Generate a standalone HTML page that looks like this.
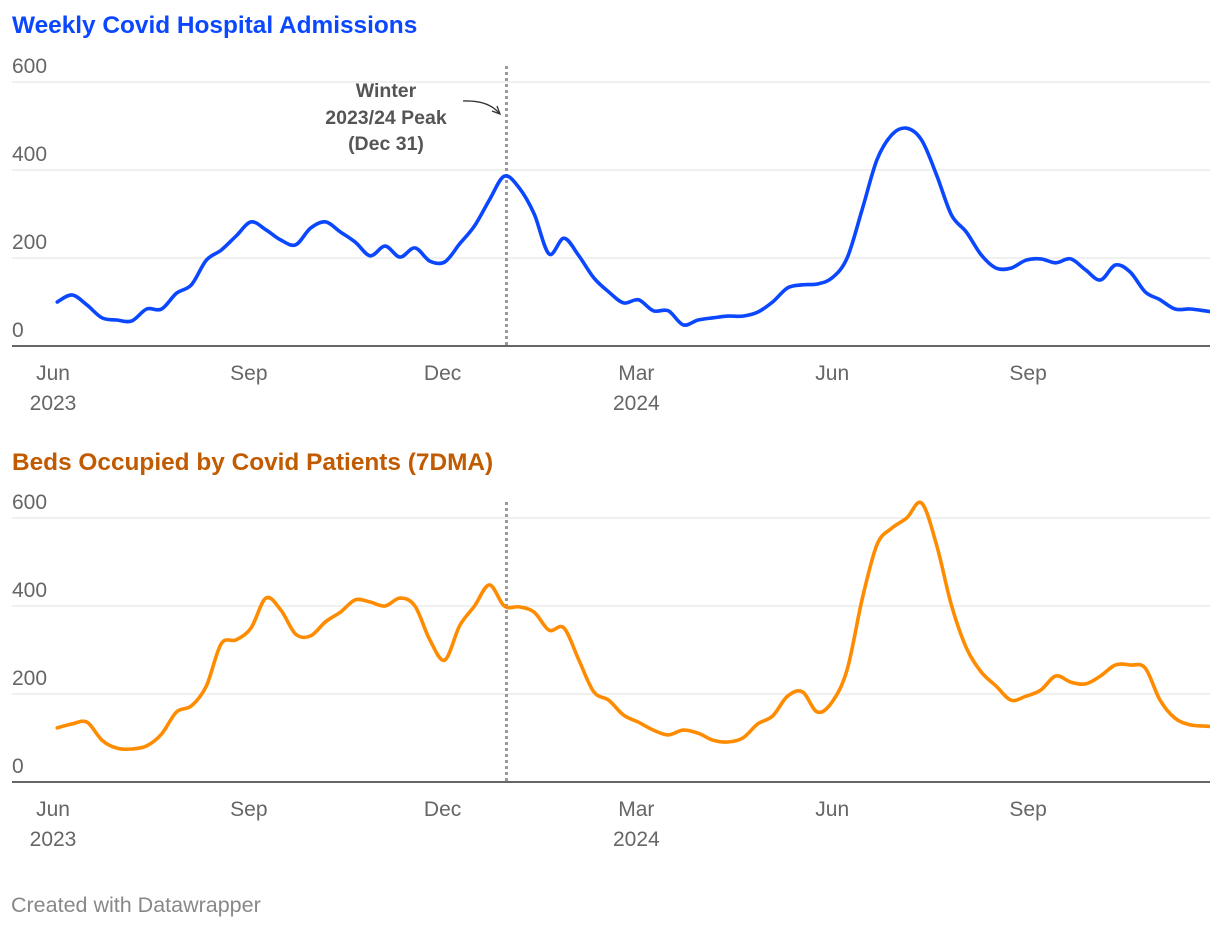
<!DOCTYPE html>
<html><head><meta charset="utf-8">
<style>
html,body{margin:0;padding:0;background:#fff;}
body{width:1220px;height:930px;overflow:hidden;font-family:"Liberation Sans",Roboto,sans-serif;}
svg text{font-family:"Liberation Sans",sans-serif;}
</style></head>
<body>
<svg id="chart" width="1220" height="930" viewBox="0 0 1220 930" xmlns="http://www.w3.org/2000/svg">
<text x="12" y="33" font-size="24.4" font-weight="bold" fill="#0a47ff">Weekly Covid Hospital Admissions</text>
<text x="12" y="470" font-size="24.4" font-weight="bold" fill="#c15b00">Beds Occupied by Covid Patients (7DMA)</text>
<text x="11" y="912" font-size="21.5" fill="#888">Created with Datawrapper</text>
<g id="top"></g>
<g id="bot"></g>
<g font-size="19.5" font-weight="bold" fill="#555" text-anchor="middle">
<text x="386" y="97">Winter</text>
<text x="386" y="124">2023/24 Peak</text>
<text x="386" y="150">(Dec 31)</text>
<path d="M463,101 Q488,100 499,113" fill="none" stroke="#333" stroke-width="1.3"/>
<path d="M492,111 L500,114 L497,106" fill="none" stroke="#333" stroke-width="1.3"/>
</g>
</svg>
<script>
const startDate = "2023-06-03";
const admissions = [100,116,93,64,59,57,84,84,120,139,195,218,250,282,264,241,230,268,282,259,236,205,227,202,223,193,191,232,273,332,386,359,300,209,245,205,155,123,98,105,80,80,48,59,64,68,68,77,100,132,139,141,155,200,309,423,480,495,468,389,298,259,207,177,177,195,198,189,198,173,150,184,168,123,105,84,84,80,75];
const beds = [123,132,136,95,77,75,82,109,159,173,218,314,323,350,418,391,336,332,364,386,414,409,400,418,400,323,277,355,400,448,400,398,386,345,350,277,205,186,152,136,118,107,118,111,95,91,100,132,150,195,205,159,182,255,414,539,577,600,634,539,402,305,250,218,186,195,209,241,227,223,241,266,266,259,186,145,130,127,125];
const yTicks = [0,200,400,600];
const monthTicks = [["2023-06-01","Jun","2023"],["2023-09-01","Sep",""],["2023-12-01","Dec",""],["2024-03-01","Mar","2024"],["2024-06-01","Jun",""],["2024-09-01","Sep",""]];
const peakDate = "2023-12-31";

const NS="http://www.w3.org/2000/svg";
const d0=Date.parse("2023-06-01");
const PXD=2.129;
function xScale(ds){return 53+(Date.parse(ds)-d0)/86400000*PXD;}
function xOfIndex(i){return xScale(startDate)+i*7*PXD;}
function mk(tag,attrs,parent){const e=document.createElementNS(NS,tag);for(const k in attrs)e.setAttribute(k,attrs[k]);parent.appendChild(e);return e;}
function smooth(pts){let d="M"+pts[0][0]+","+pts[0][1];for(let i=0;i<pts.length-1;i++){const p0=pts[i-1]||pts[i],p1=pts[i],p2=pts[i+1],p3=pts[i+2]||p2;const c1x=p1[0]+(p2[0]-p0[0])/6,c1y=p1[1]+(p2[1]-p0[1])/6,c2x=p2[0]-(p3[0]-p1[0])/6,c2y=p2[1]-(p3[1]-p1[1])/6;d+=" C"+c1x.toFixed(1)+","+c1y.toFixed(1)+" "+c2x.toFixed(1)+","+c2y.toFixed(1)+" "+p2[0].toFixed(1)+","+p2[1].toFixed(1);}return d;}
function draw(g,base,data,color,id){
  const yScale=v=>base-v*0.44;
  for(const t of yTicks){
    if(t>0){const l=mk("line",{x1:12,x2:1210,y1:yScale(t),y2:yScale(t),stroke:"#e0e0e0","stroke-width":1},g);
    
    }
    const tx=mk("text",{x:12,y:yScale(t)-9,"font-size":21,fill:"#666"},g);tx.textContent=t;
    
    
  }
  for(const m of monthTicks){
    const x=xScale(m[0]);
    const a=mk("text",{x:x,y:base+34,"font-size":21,fill:"#666","text-anchor":"middle"},g);a.textContent=m[1];
    
    
    if(m[2]){const b=mk("text",{x:x,y:base+64,"font-size":21,fill:"#666","text-anchor":"middle"},g);b.textContent=m[2];
    
    }
  }
  const pk=mk("line",{x1:xScale(peakDate),x2:xScale(peakDate),y1:base-280,y2:base,stroke:"#999","stroke-width":3,"stroke-dasharray":"3,3"},g);
  
  
  const ax=mk("line",{x1:12,x2:1210,y1:base,y2:base,stroke:"#333","stroke-width":1.5},g);
  
  
  const cp=mk("clipPath",{id:"clip"+id},g);mk("rect",{x:12,y:0,width:1198,height:930},cp);
  const pts=data.map((v,i)=>[xOfIndex(i),yScale(v)]);
  const p=mk("path",{d:smooth(pts),fill:"none",stroke:color,"stroke-width":3.6,"stroke-linejoin":"round","stroke-linecap":"round","clip-path":"url(#clip"+id+")"},g);
  
  
}
draw(document.getElementById("top"),346,admissions,"#0a47ff","admissions");
draw(document.getElementById("bot"),782,beds,"#ff8c00","beds");
</script>
</body></html>
